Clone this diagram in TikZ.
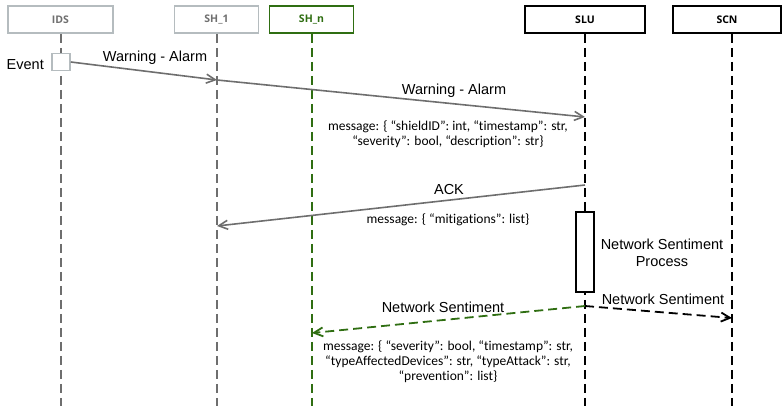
\documentclass[tikz,border=0pt]{standalone}
\usepackage{fontspec}
\setmainfont{Liberation Sans}
\newfontfamily\msgfont[Ligatures=NoCommon]{Carlito}
\newfontfamily\boxfont{Open Sans}
\usetikzlibrary{arrows.meta}
\definecolor{sqgray}{HTML}{B5BCBF}
\definecolor{sqtext}{HTML}{707070}
\definecolor{sqline}{HTML}{6E6E6E}
\definecolor{sqgreen}{HTML}{2F6E12}

\begin{document}
\begin{tikzpicture}[x=1pt, y=-1pt,
  actor/.style={draw, line width=1.8pt, fill=white, minimum height=27pt, inner sep=0pt, font=\boxfont\bfseries\fontsize{10.5}{12}\selectfont},
  life/.style={line width=2pt, dash pattern=on 9pt off 5pt},
  msg/.style={-{Straight Barb[length=9pt,width=9pt]}, line width=1.6pt},
  dmsg/.style={msg, line width=1.8pt, dash pattern=on 9pt off 5pt},
  lbl/.style={font=\fontsize{14.5}{17}\selectfont, inner sep=1pt},
  note/.style={align=center, inner sep=1pt, font=\msgfont\fontsize{13.5}{15}\selectfont}
]
  \useasboundingbox (0,0) rectangle (783,406);
  \coordinate (bot) at (0,406);

  % participants
  \node[actor, draw=sqgray, text=sqtext, minimum width=105pt] (ids) at (60.5,19.5) {IDS};
  \node[actor, draw=sqgray, text=sqtext, minimum width=84pt] (sh1) at (216.5,19.5) {SH\_1};
  \node[actor, draw=sqgreen, text=sqgreen, minimum width=84pt] (shn) at (311.5,19.5) {SH\_n};
  \node[actor, minimum width=120pt] (slu) at (585,19.5) {SLU};
  \node[actor, minimum width=108pt] (scn) at (727,19.5) {SCN};

  % lifelines
  \draw[life, sqline] (ids.south) -- (ids.south |- bot);
  \draw[life, sqline] (sh1.south) -- (sh1.south |- bot);
  \draw[life, sqgreen] (shn.south) -- (shn.south |- bot);
  \draw[life] (slu.south) -- (slu.south |- bot);
  \draw[life] ([xshift=5pt]scn.south) -- ([xshift=5pt]scn.south |- bot);

  % event and activation
  \node[draw=sqgray, fill=white, line width=1.6pt, minimum width=18pt, minimum height=17pt, inner sep=0pt] (evt) at (61,62) {};
  \node[lbl, anchor=east] (levt) at (45,65) {Event};
  \node[draw, fill=white, line width=1.8pt, minimum width=18pt, minimum height=80pt, inner sep=0pt] (act) at (585,252) {};

  % message points
  \coordinate (w1) at (217,80);
  \coordinate (w2) at (585,117);
  \coordinate (a1) at (585,185);
  \coordinate (a2) at (217,226);
  \coordinate (n1) at (585,306);
  \coordinate (n2) at (312,333);
  \coordinate (n3) at (732,318);

  \draw[msg, sqline] (evt.east) -- (w1);
  \draw[msg, sqline] (w1) -- (w2);
  \draw[msg, sqline] (a1) -- (a2);
  \draw[dmsg, sqgreen] (n1) -- (n2);
  \draw[dmsg] (n1) -- (n3);

  % labels
  \node[lbl] (lw1) at (155,58) {Warning - Alarm};
  \node[lbl] (lw2) at (454,91) {Warning - Alarm};
  \node[note] (m1) at (448,134.5) {message: \{ “shieldID”: int, “timestamp”: str,\\“severity”: bool, “description”: str\}};
  \node[lbl] (lack) at (449,190) {ACK};
  \node[note] (m2) at (448,220) {message: \{ “mitigations”: list\}};
  \node[lbl, align=center] (lproc) at (662,252.5) {Network Sentiment\\Process};
  \node[lbl] (lns1) at (443,307) {Network Sentiment};
  \node[lbl] (lns2) at (663,299) {Network Sentiment};
  \node[note] (m3) at (448,362) {message: \{ “severity”: bool, “timestamp”: str,\\“typeAffectedDevices”: str, “typeAttack”: str,\\“prevention”: list\}};
\end{tikzpicture}
\end{document}
